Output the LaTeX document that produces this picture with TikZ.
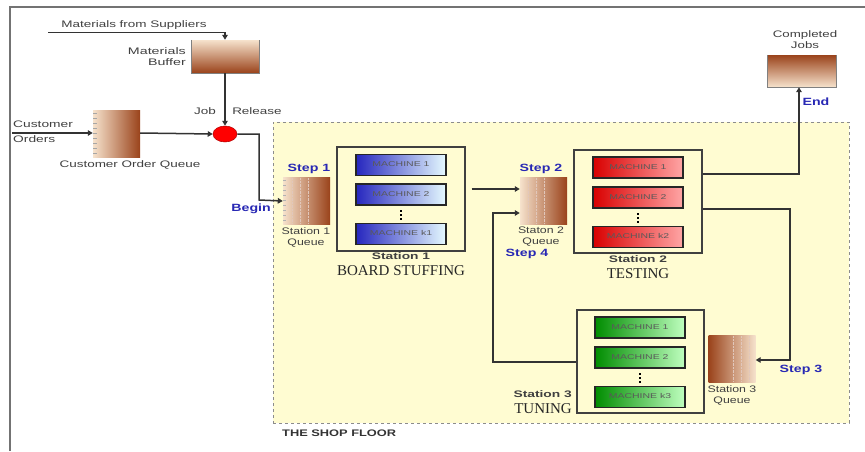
\documentclass[tikz,border=0pt]{standalone}
\usepackage{graphicx}
\usepackage{fontspec}
\setmainfont{Liberation Sans}
\newfontfamily\serifl{Liberation Serif}
\usetikzlibrary{arrows.meta,shapes.geometric}
\definecolor{qlight}{HTML}{F6E2CC}
\definecolor{qdark}{HTML}{9A431B}
\definecolor{floor}{HTML}{FFFCD2}
\definecolor{stepblue}{HTML}{2828B4}
\definecolor{txtgray}{HTML}{404040}
\newcommand{\wtxt}[2][1.42]{\scalebox{#1}[1]{\begin{tabular}{@{}c@{}}#2\end{tabular}}}
\newcommand{\wtxtr}[2][1.42]{\scalebox{#1}[1]{\begin{tabular}{@{}r@{}}#2\end{tabular}}}
\tikzset{
  lbl/.style={font=\fontsize{9.5}{11}\selectfont, text=txtgray, inner sep=0pt},
  steplbl/.style={font=\fontsize{10.5}{11}\selectfont\bfseries, text=stepblue, inner sep=0pt},
  stlbl/.style={font=\fontsize{9.5}{10}\selectfont\bfseries, text=txtgray, inner sep=0pt},
  stname/.style={font=\serifl\fontsize{15}{16}\selectfont, text=black!85, inner sep=0pt},
  conn/.style={draw=black!80, line width=1.5pt},
  arr/.style={conn, -{Triangle[length=5pt,width=5.5pt]}},
  stbox/.style={draw=black!75, line width=1.3pt, fill=floor},
  mach/.style={draw=black!85, line width=1.7pt, minimum width=90pt, minimum height=21pt, inner sep=0pt,
    font=\fontsize{7}{7.5}\selectfont, text=black!65},
  blue mach/.style={mach, left color=blue!70!black!85, right color=blue!20!cyan!10},
  red mach/.style={mach, left color=red!85!black, right color=red!35},
  green mach/.style={mach, left color=green!55!black, right color=green!25},
  queue/.style={draw=none, inner sep=0pt, minimum width=47pt, minimum height=47pt},
  dotsq/.style={fill=black, inner sep=0pt, minimum size=2.6pt}
}
\begin{document}
\begin{tikzpicture}[x=1pt,y=-1pt]
\useasboundingbox (0,0) rectangle (865,451);
% frame
\draw[black!55, line width=1.5pt] (10,451) -- (10,7) -- (865,7);
% shop floor
\node[draw=black!45, dashed, line width=1pt, fill=floor, minimum width=576pt, minimum height=301pt, inner sep=0pt] (floor) at (561,272.5) {};
\node[font=\fontsize{9.5}{10}\selectfont\bfseries, text=black!80, anchor=west, inner sep=0pt] (shop) at (282,434) {\wtxt[1.35]{THE SHOP FLOOR}};

% materials
\node[lbl, anchor=south] (msup) at (134,31) {\wtxt{Materials from Suppliers}};
\coordinate (mstart) at (48,32.5);
\node[inner sep=0pt, minimum width=68pt, minimum height=33pt, top color=qlight, bottom color=qdark] (mbuf) at (225,56.5) {};
\draw[black!50, line width=0.6pt] (mbuf.north west) -- (mbuf.south west) -- (mbuf.south east) -- (mbuf.north east);
\draw[arr] (mstart) -| (mbuf.north);
\node[lbl, anchor=east] (mbl) at (186,58) {\wtxtr[1.5]{Materials\\Buffer}};

% job release
\node[ellipse, fill=red, draw=red!70!black, line width=0.5pt, minimum width=24pt, minimum height=16pt, inner sep=0pt] (rel) at (225,134) {};
\draw[arr] (mbuf.south) -- (rel.north);
\node[lbl, anchor=south] (job) at (205,118) {\wtxt{Job}};
\node[lbl, anchor=south] (release) at (257,118) {\wtxt{Release}};

% customer order queue
\node[queue, left color=qlight, right color=qdark] (coq) at (116.5,133.5) {};
\foreach \yy in {113,118,...,155} \draw[black!35, line width=0.4pt] (93,\yy) -- (97,\yy);
\node[lbl, anchor=north] (coql) at (130,160) {\wtxt{Customer Order Queue}};
\node[lbl, anchor=west] (cord) at (13,133) {\scalebox{1.45}[1]{\begin{tabular}{@{}l@{}}Customer\\[4.5pt]Orders\end{tabular}}};
\coordinate (cstart) at (12,133);
\draw[arr] (cstart) -- (coq.west |- cstart);
\draw[arr] (coq.east |- cstart) -- (rel.west);

% station 1 queue
\node[queue, left color=qlight, right color=qdark] (q1) at (306.5,201) {};
\foreach \xx in {292,300,308} \draw[white!70!qdark, densely dotted, line width=0.4pt] (\xx,178) -- (\xx,224);
\foreach \yy in {180,185,...,222} \draw[black!30, line width=0.4pt] (283,\yy) -- (286,\yy);
\draw[conn, -{Triangle[length=5pt,width=5.5pt]}] (rel.east) -| (259,200) -- (q1.west);
\node[steplbl, anchor=south] (step1) at (309,175) {\wtxt[1.35]{Step 1}};
\node[steplbl, anchor=east] (begin) at (271,209) {\wtxt[1.35]{Begin}};
\node[lbl] (q1l) at (306,238) {\wtxt[1.3]{Station 1\\Queue}};

% station 1
\node[stbox, minimum width=128pt, minimum height=104pt, inner sep=0pt] (s1) at (401,199) {};
\node[blue mach] (b1) at (401,165) {\wtxt[1.5]{MACHINE 1}};
\node[blue mach] (b2) at (401,194.5) {\wtxt[1.5]{MACHINE 2}};
\node[dotsq] (b3a) at (401,211) {};
\node[dotsq] (b3b) at (401,215) {};
\node[dotsq] (b3c) at (401,219) {};
\node[blue mach] (bk) at (401,234) {\wtxt[1.5]{MACHINE k1}};
\node[stlbl] (s1n) at (401,257) {\wtxt[1.45]{Station 1}};
\node[stname] (s1t) at (401,270.5) {BOARD STUFFING};

% station 2 queue
\node[queue, left color=qlight, right color=qdark] (q2) at (543.5,200.5) {};
\foreach \xx in {528,536,544} \draw[white!70!qdark, densely dotted, line width=0.4pt] (\xx,178) -- (\xx,223);
\node[steplbl, anchor=south] (step2) at (541,175) {\wtxt[1.35]{Step 2}};
\node[lbl] (q2l) at (541,237) {\wtxt[1.3]{Staton 2\\Queue}};
\node[steplbl] (step4) at (527,254) {\wtxt[1.35]{Step 4}};
\draw[arr] (s1.east) ++(6,-10) coordinate (s1o) -- (s1o -| q2.west);

% station 2
\node[stbox, minimum width=128pt, minimum height=103pt, inner sep=0pt] (s2) at (638,201.5) {};
\node[red mach] (r1) at (638,167.5) {\wtxt[1.5]{MACHINE 1}};
\node[red mach] (r2) at (638,197.5) {\wtxt[1.5]{MACHINE 2}};
\node[dotsq] (r3a) at (638,214) {};
\node[dotsq] (r3b) at (638,218) {};
\node[dotsq] (r3c) at (638,222) {};
\node[red mach] (rk) at (638,237) {\wtxt[1.5]{MACHINE k2}};
\node[stlbl] (s2n) at (638,260) {\wtxt[1.45]{Station 2}};
\node[stname] (s2t) at (638,273.5) {TESTING};

% completed jobs
\node[inner sep=0pt, minimum width=69pt, minimum height=32pt, top color=qdark, bottom color=qlight] (cj) at (801.5,71) {};
\draw[black!50, line width=0.6pt] (cj.north west) -- (cj.south west) -- (cj.south east) -- (cj.north east);
\node[lbl, anchor=south] (cjl) at (805,52) {\wtxt[1.4]{Completed\\Jobs}};
\draw[arr] (s2.east |- 0,174) -| (cj.south -| 799,0);
\node[steplbl] (endl) at (816,103) {\wtxt[1.35]{End}};

% station 3 queue
\node[queue, left color=qdark, right color=qlight] (q3) at (732,358.5) {};
\foreach \xx in {733,741,749} \draw[white!70!qdark, densely dotted, line width=0.4pt] (\xx,336) -- (\xx,381);
\node[lbl] (q3l) at (732,396) {\wtxt[1.3]{Station 3\\Queue}};
\draw[arr] (s2.east |- 0,209) -| (790,360) -- (q3.east |- 0,360);
\node[steplbl] (step3) at (801,370) {\wtxt[1.35]{Step 3}};

% station 3
\node[stbox, minimum width=127pt, minimum height=103pt, inner sep=0pt] (s3) at (640.5,361.5) {};
\node[green mach] (g1) at (640,327.5) {\wtxt[1.5]{MACHINE 1}};
\node[green mach] (g2) at (640,357.5) {\wtxt[1.5]{MACHINE 2}};
\node[dotsq] (g3a) at (640,374) {};
\node[dotsq] (g3b) at (640,378) {};
\node[dotsq] (g3c) at (640,382) {};
\node[green mach] (gk) at (640,397) {\wtxt[1.5]{MACHINE k3}};
\node[stlbl, anchor=east] (s3n) at (572,395) {\wtxt[1.45]{Station 3}};
\node[stname, anchor=east] (s3t) at (572,408.5) {TUNING};

% step 4 loop
\draw[arr] (s3.west |- 0,362) -| (493,213) -- (q2.west |- 0,213);
\end{tikzpicture}
\end{document}
